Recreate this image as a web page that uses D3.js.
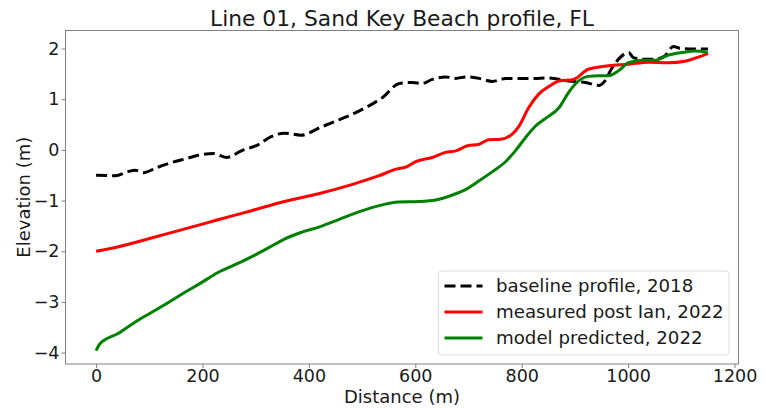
<!DOCTYPE html>
<html>
<head>
<meta charset="utf-8">
<script src="https://cdn.jsdelivr.net/npm/d3@7"></script>
<style>
  body { margin: 0; background: #fff; }
  svg text { font-family: "DejaVu Sans", sans-serif; fill: #1a1a1a; }
</style>
</head>
<body>
<svg id="chart" width="766" height="409"></svg>
<script>

// baseline profile, 2018
const baseX = [0, 36, 60, 73, 89, 114, 142, 167, 195, 220, 245, 273, 304, 329, 354, 385, 423, 451, 489, 513, 538, 570, 595, 613, 632, 657, 676, 695, 720, 745, 770, 820, 851, 888, 920, 945, 954, 970, 982, 1001, 1010, 1026, 1051, 1069, 1085, 1098, 1126, 1150];
const baseY = [-0.50, -0.51, -0.43, -0.40, -0.45, -0.35, -0.25, -0.18, -0.10, -0.07, -0.15, -0.02, 0.10, 0.26, 0.33, 0.29, 0.45, 0.57, 0.74, 0.87, 1.03, 1.31, 1.33, 1.31, 1.39, 1.44, 1.41, 1.44, 1.41, 1.35, 1.41, 1.41, 1.42, 1.36, 1.33, 1.27, 1.33, 1.62, 1.79, 1.92, 1.82, 1.79, 1.79, 1.85, 2.04, 2.00, 1.99, 1.99];

// measured post Ian, 2022
const measX = [0, 42, 104, 167, 229, 292, 354, 420, 482, 532, 564, 582, 601, 632, 657, 676, 698, 720, 738, 760, 782, 795, 813, 832, 851, 870, 898, 925, 963, 1001, 1038, 1076, 1107, 1129, 1150];
const measY = [-2.00, -1.91, -1.74, -1.56, -1.38, -1.20, -1.02, -0.86, -0.68, -0.51, -0.38, -0.34, -0.23, -0.15, -0.05, -0.02, 0.08, 0.11, 0.20, 0.21, 0.31, 0.47, 0.83, 1.10, 1.25, 1.36, 1.39, 1.59, 1.66, 1.69, 1.73, 1.72, 1.75, 1.82, 1.90];

// model predicted, 2022
const modelX = [0, 7, 42, 73, 104, 136, 167, 198, 229, 260, 292, 323, 354, 385, 420, 457, 495, 532, 570, 607, 638, 670, 695, 720, 745, 770, 788, 807, 826, 845, 870, 888, 907, 925, 945, 963, 982, 1001, 1026, 1051, 1076, 1101, 1126, 1144, 1150];
const modelY = [-3.96, -3.83, -3.62, -3.40, -3.21, -3.01, -2.81, -2.62, -2.42, -2.27, -2.11, -1.94, -1.76, -1.63, -1.52, -1.37, -1.22, -1.10, -1.03, -1.02, -0.99, -0.89, -0.78, -0.61, -0.43, -0.23, -0.02, 0.24, 0.47, 0.62, 0.83, 1.13, 1.36, 1.45, 1.46, 1.46, 1.56, 1.72, 1.77, 1.77, 1.87, 1.92, 1.95, 1.93, 1.91];

const xTicks = [0, 200, 400, 600, 800, 1000, 1200];
const yTicks = [-4, -3, -2, -1, 0, 1, 2];

const seriesNames = ["baseline profile, 2018", "measured post Ian, 2022", "model predicted, 2022"];

const series = [
  { name: seriesNames[0], xs: baseX, ys: baseY, color: "#000000", dash: "11,5" },
  { name: seriesNames[1], xs: measX, ys: measY, color: "#ff0000", dash: null },
  { name: seriesNames[2], xs: modelX, ys: modelY, color: "#008000", dash: null }
];

const plotLeft = 65.5, plotRight = 738.5, plotTop = 30.5, plotBottom = 364;

const x =
  d3.scaleLinear()
    .domain([-57.5, 1207.5])
    .range([plotLeft, plotRight]);

const y =
  d3.scaleLinear()
    .domain([-4.225, 2.355])
    .range([plotBottom, plotTop]);

const svg = d3.select("#chart");

const line =
  d3.line()
    .x(d => x(d[0]))
    .y(d => y(d[1]))
    .curve(d3.curveMonotoneX);

series.forEach(s => {

  const pts = s.xs.map((v, i) => [v, s.ys[i]]);

  svg.append("path")
    .datum(pts)
    .attr("d", line)
    .attr("fill", "none")
    .attr("stroke", s.color)
    .attr("stroke-width", 3)
    .attr("stroke-dasharray", s.dash)
    .attr("stroke-linejoin", "round");
});

// frame
svg.append("rect")
  .attr("x", plotLeft)
  .attr("y", plotTop)
  .attr("width", plotRight - plotLeft)
  .attr("height", plotBottom - plotTop)
  .attr("fill", "none")
  .attr("stroke", "#808080")
  .attr("stroke-width", 1);

const xAxis =
  svg.append("g")
    .attr("transform", `translate(0,${plotBottom})`)
    .call(
      d3.axisBottom(x)
        .tickValues(xTicks)
        .tickSize(4)
        .tickPadding(2)
        .tickFormat(d3.format("d"))
    );

const yAxis =
  svg.append("g")
    .attr("transform", `translate(${plotLeft},0)`)
    .call(
      d3.axisLeft(y)
        .tickValues(yTicks)
        .tickSize(4)
        .tickPadding(2)
        .tickFormat(d => d < 0 ? "\u2212" + Math.abs(d) : d)
    );

[xAxis, yAxis].forEach(g => {
  g.select(".domain").remove();
  g.selectAll(".tick line").attr("stroke", "#808080");
  g.selectAll(".tick text")
    .attr("fill", "#1a1a1a")
    .style("font-size", "17.5px");
});

svg.append("text")
  .attr("x", (plotLeft + plotRight) / 2)
  .attr("y", 26)
  .attr("text-anchor", "middle")
  .style("font-size", "21.8px")
  .text("Line 01, Sand Key Beach profile, FL");

svg.append("text")
  .attr("x", (plotLeft + plotRight) / 2)
  .attr("y", 403)
  .attr("text-anchor", "middle")
  .style("font-size", "18px")
  .text("Distance (m)");

svg.append("text")
  .attr("transform", `translate(30,${(plotTop + plotBottom) / 2}) rotate(-90)`)
  .attr("text-anchor", "middle")
  .style("font-size", "18px")
  .text("Elevation (m)");

// legend
const legend =
  svg.append("g")
    .attr("transform", "translate(438.5,271)");

legend.append("rect")
  .attr("width", 290.5)
  .attr("height", 84)
  .attr("rx", 3)
  .attr("fill", "#fff")
  .attr("fill-opacity", 0.8)
  .attr("stroke", "#dcdcdc");

series.forEach((s, i) => {

  const row = 15 + i * 26;

  legend.append("line")
    .attr("x1", 6)
    .attr("x2", 44)
    .attr("y1", row)
    .attr("y2", row)
    .attr("stroke", s.color)
    .attr("stroke-width", 3)
    .attr("stroke-dasharray", s.dash);

  legend.append("text")
    .attr("x", 57.5)
    .attr("y", row)
    .attr("dy", "0.35em")
    .style("font-size", "18.2px")
    .text(s.name);
});

</script>
</body>
</html>
